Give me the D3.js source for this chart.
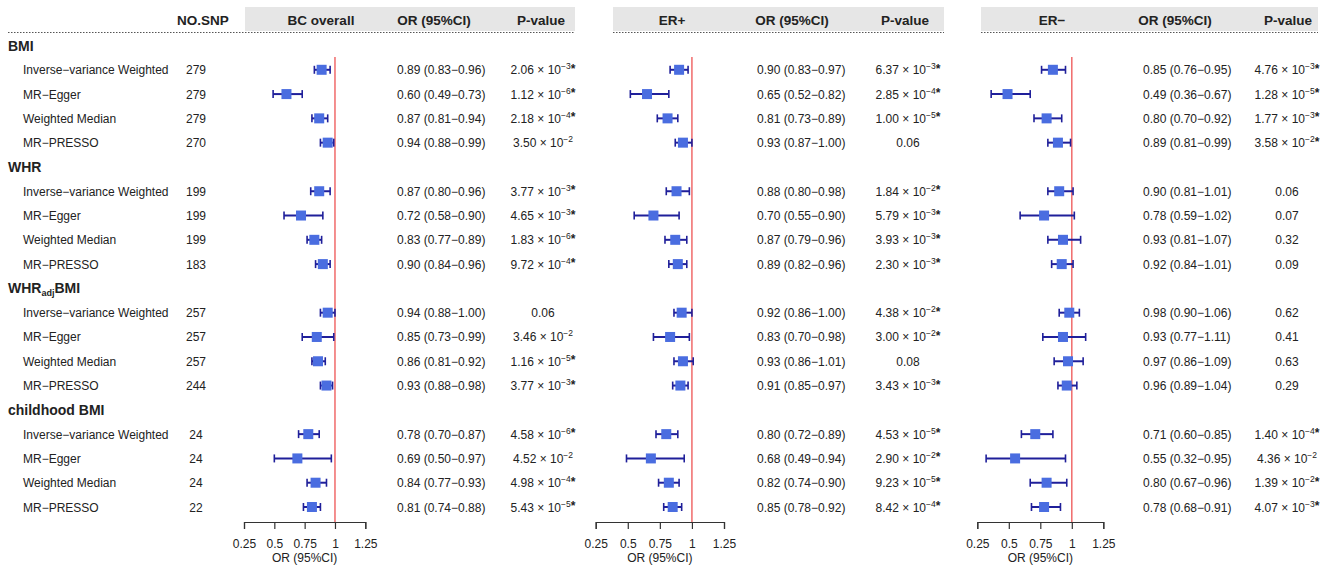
<!DOCTYPE html>
<html><head><meta charset="utf-8">
<script src="https://cdn.jsdelivr.net/npm/d3@7"></script>
<style>body{margin:0;background:#fff} text{font-family:"Liberation Sans",Arial,sans-serif;fill:#222}</style>
</head><body><svg id="c" width="1333" height="568"></svg>
<script>
// ---------- data ----------
const groups = ["BMI", "WHR", "WHRadjBMI", "childhood BMI"];
const methods = ["Inverse\u2212variance Weighted", "MR\u2212Egger", "Weighted Median", "MR\u2212PRESSO"];
const nsnp = [279, 279, 279, 270, 199, 199, 199, 183, 257, 257, 257, 244, 24, 24, 24, 22];
const panelNames = ["BC overall", "ER+", "ER\u2212"];

const orBC = [0.89, 0.60, 0.87, 0.94, 0.87, 0.72, 0.83, 0.90, 0.94, 0.85, 0.86, 0.93, 0.78, 0.69, 0.84, 0.81];
const loBC = [0.83, 0.49, 0.81, 0.88, 0.80, 0.58, 0.77, 0.84, 0.88, 0.73, 0.81, 0.88, 0.70, 0.50, 0.77, 0.74];
const hiBC = [0.96, 0.73, 0.94, 0.99, 0.96, 0.90, 0.89, 0.96, 1.00, 0.99, 0.92, 0.98, 0.87, 0.97, 0.93, 0.88];
const pBC = ["2.06e-3*", "1.12e-6*", "2.18e-4*", "3.50e-2", "3.77e-3*", "4.65e-3*", "1.83e-6*", "9.72e-4*",
             "0.06", "3.46e-2", "1.16e-5*", "3.77e-3*", "4.58e-6*", "4.52e-2", "4.98e-4*", "5.43e-5*"];

const orERp = [0.90, 0.65, 0.81, 0.93, 0.88, 0.70, 0.87, 0.89, 0.92, 0.83, 0.93, 0.91, 0.80, 0.68, 0.82, 0.85];
const loERp = [0.83, 0.52, 0.73, 0.87, 0.80, 0.55, 0.79, 0.82, 0.86, 0.70, 0.86, 0.85, 0.72, 0.49, 0.74, 0.78];
const hiERp = [0.97, 0.82, 0.89, 1.00, 0.98, 0.90, 0.96, 0.96, 1.00, 0.98, 1.01, 0.97, 0.89, 0.94, 0.90, 0.92];
const pERp = ["6.37e-3*", "2.85e-4*", "1.00e-5*", "0.06", "1.84e-2*", "5.79e-3*", "3.93e-3*", "2.30e-3*",
              "4.38e-2*", "3.00e-2*", "0.08", "3.43e-3*", "4.53e-5*", "2.90e-2*", "9.23e-5*", "8.42e-4*"];

const orERn = [0.85, 0.49, 0.80, 0.89, 0.90, 0.78, 0.93, 0.92, 0.98, 0.93, 0.97, 0.96, 0.71, 0.55, 0.80, 0.78];
const loERn = [0.76, 0.36, 0.70, 0.81, 0.81, 0.59, 0.81, 0.84, 0.90, 0.77, 0.86, 0.89, 0.60, 0.32, 0.67, 0.68];
const hiERn = [0.95, 0.67, 0.92, 0.99, 1.01, 1.02, 1.07, 1.01, 1.06, 1.11, 1.09, 1.04, 0.85, 0.95, 0.96, 0.91];
const pERn = ["4.76e-3*", "1.28e-5*", "1.77e-3*", "3.58e-2*", "0.06", "0.07", "0.32", "0.09",
              "0.62", "0.41", "0.63", "0.29", "1.40e-4*", "4.36e-2", "1.39e-2*", "4.07e-3*"];

const tickValues = [0.25, 0.5, 0.75, 1, 1.25];
const tickLabels = ["0.25", "0.5", "0.75", "1", "1.25"];
const axisTitle = "OR (95%CI)";

// ---------- layout ----------
const svg = d3.select("#c");
const FONT = "Liberation Sans, Arial, sans-serif";

const panels = [
  {name: panelNames[0], or: orBC, lo: loBC, hi: hiBC, p: pBC, range: [244, 365.3], orX: 397, pX: 543,
   gray: [245, 575], dot: [8, 575], hx: [321, 434, 541]},
  {name: panelNames[1], or: orERp, lo: loERp, hi: hiERp, p: pERp, range: [595.7, 724], orX: 757, pX: 908,
   gray: [613, 944], dot: [613, 944], hx: [672, 792, 905]},
  {name: panelNames[2], or: orERn, lo: loERn, hi: hiERn, p: pERn, range: [977.3, 1103.3], orX: 1143, pX: 1287,
   gray: [981, 1318], dot: [981, 1318], hx: [1052, 1175, 1288]}
];

// row keys: group header then 4 methods
const rowKeys = [];
groups.forEach((g, gi) => {
  rowKeys.push("g" + gi);
  methods.forEach((m, mi) => rowKeys.push("r" + (gi * 4 + mi)));
});
const y = d3.scalePoint().domain(rowKeys).range([45.5, 507]);
const axisY = 522;

// header
panels.forEach(P => {
  svg.append("rect").attr("x", P.gray[0]).attr("y", 7).attr("width", P.gray[1] - P.gray[0]).attr("height", 24)
    .attr("fill", "#e6e6e6");
});
svg.append("text").attr("x", 203).attr("y", 24.5).attr("text-anchor", "middle")
  .attr("font-size", 13.5).attr("font-weight", "bold").text("NO.SNP");
panels.forEach(P => {
  [P.name, "OR (95%CI)", "P-value"].forEach((t, i) => {
    svg.append("text").attr("x", P.hx[i]).attr("y", 24.5).attr("text-anchor", "middle")
      .attr("font-size", 13.5).attr("font-weight", "bold").text(t);
  });
  svg.append("line").attr("x1", P.dot[0]).attr("x2", P.dot[1]).attr("y1", 32.5).attr("y2", 32.5)
    .attr("stroke", "#555").attr("stroke-width", 1).attr("stroke-dasharray", "1.5,1.5");
});

// group labels
groups.forEach((g, gi) => {
  const t = svg.append("text").attr("x", 8).attr("y", y("g" + gi) + 5)
    .attr("font-size", 14).attr("font-weight", "bold");
  if (g === "WHRadjBMI") {
    t.append("tspan").text("WHR");
    t.append("tspan").attr("font-size", 9).attr("dy", 3).text("adj");
    t.append("tspan").attr("dy", -3).text("BMI");
  } else t.text(g);
});

// method labels and NO.SNP
groups.forEach((g, gi) => methods.forEach((m, mi) => {
  const k = gi * 4 + mi;
  const yy = y("r" + k) + 4.5;
  svg.append("text").attr("x", 23).attr("y", yy).attr("font-size", 12).text(m);
  svg.append("text").attr("x", 196).attr("y", yy).attr("font-size", 12).attr("text-anchor", "middle").text(nsnp[k]);
}));

function fmtOR(o, l, h) {
  return o.toFixed(2) + " (" + l.toFixed(2) + "\u2212" + h.toFixed(2) + ")";
}

panels.forEach(P => {
  const x = d3.scaleLinear().domain([0.25, 1.25]).range(P.range);

  // red reference line
  svg.append("line").attr("x1", x(1)).attr("x2", x(1)).attr("y1", 57).attr("y2", axisY)
    .attr("stroke", "#f06a6a").attr("stroke-width", 1.5);

  // axis
  const axis = d3.axisBottom(x).tickValues(tickValues).tickFormat((d, i) => tickLabels[i]).tickSizeOuter(0).tickSize(7);
  const ag = svg.append("g").attr("transform", `translate(0,${axisY})`).call(axis);
  ag.select(".domain").attr("stroke", "#333").attr("stroke-width", 1.2);
  ag.selectAll(".tick line").attr("stroke", "#333").attr("stroke-width", 1.2);
  ag.selectAll(".tick text").attr("font-family", FONT).attr("font-size", 12).attr("fill", "#222").attr("dy", "1.3em");
  svg.append("text").attr("x", (P.range[0] + P.range[1]) / 2).attr("y", 562).attr("text-anchor", "middle")
    .attr("font-size", 12).text(axisTitle);

  // rows
  const idx = d3.range(16);
  const g = svg.append("g");
  idx.forEach(k => {
    const yy = y("r" + k);
    const x1 = x(P.lo[k]), x2 = x(P.hi[k]);
    g.append("line").attr("x1", x1).attr("x2", x2).attr("y1", yy).attr("y2", yy)
      .attr("stroke", "#1f1f9a").attr("stroke-width", 2);
    [x1, x2].forEach(xc => g.append("line").attr("x1", xc).attr("x2", xc).attr("y1", yy - 4).attr("y2", yy + 4)
      .attr("stroke", "#1f1f9a").attr("stroke-width", 1.6));
    g.append("rect").attr("x", x(P.or[k]) - 5).attr("y", yy - 5).attr("width", 10).attr("height", 10)
      .attr("fill", "#4a6de0");

    svg.append("text").attr("x", P.orX).attr("y", yy + 4.5).attr("font-size", 12).text(fmtOR(P.or[k], P.lo[k], P.hi[k]));

    const pv = P.p[k];
    const t = svg.append("text").attr("x", P.pX).attr("y", yy + 4.5).attr("font-size", 12).attr("text-anchor", "middle");
    if (pv.includes("e")) {
      const star = pv.endsWith("*");
      const core = pv.replace("*", "");
      const [mant, ex] = core.split("e");
      t.append("tspan").text(mant + " \u00d7 10");
      t.append("tspan").attr("font-size", 8.5).attr("dy", -5).text(ex.replace("-", "\u2212"));
      if (star) t.append("tspan").attr("font-size", 12).attr("font-weight", "bold").attr("dy", 3.5).text("*");
    } else {
      t.text(pv);
    }
  });
});
</script>
</body></html>
